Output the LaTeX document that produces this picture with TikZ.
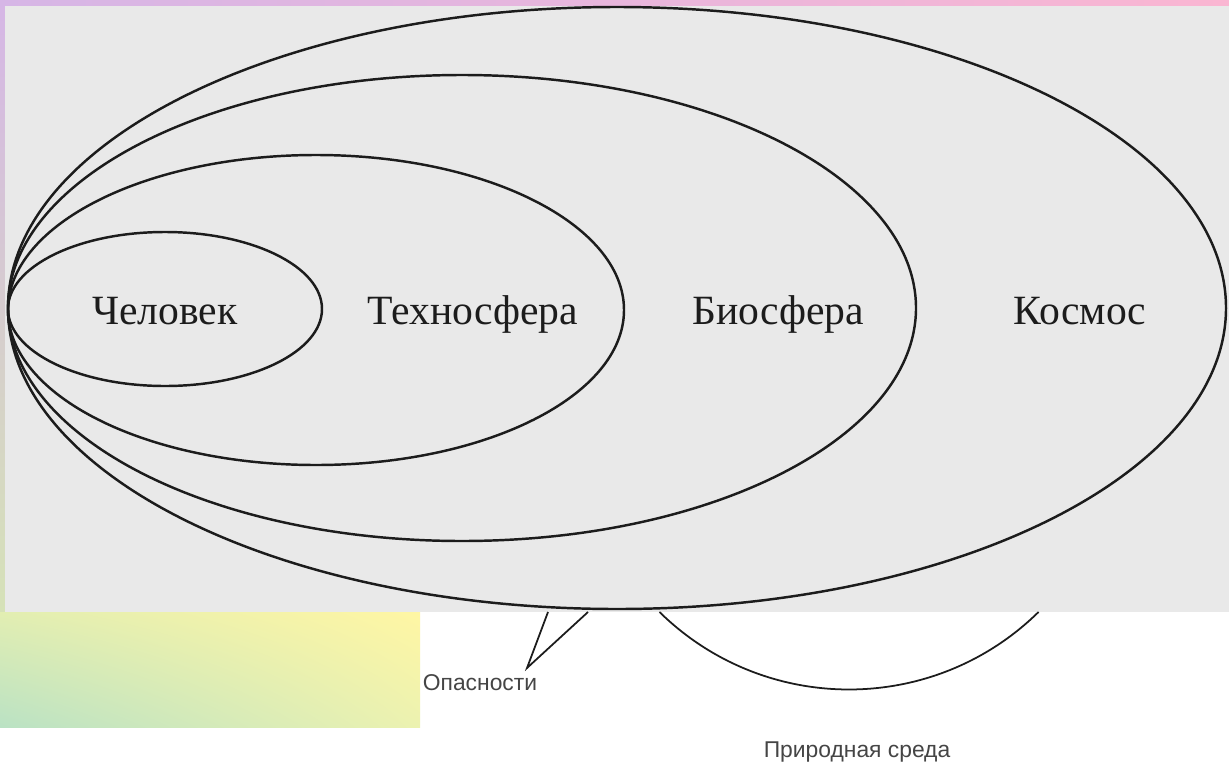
\documentclass[tikz,border=0pt]{standalone}
\usepackage{fontspec}
\usetikzlibrary{shadings}
\setmainfont{Liberation Serif}
\newfontfamily\labsans{Liberation Sans}
\definecolor{scan}{HTML}{E9E9E9}
\definecolor{ink}{HTML}{1C1C1C}
\definecolor{graytext}{HTML}{454545}
\definecolor{lav}{RGB}{214,182,230}
\definecolor{pinkish}{RGB}{250,182,210}
\definecolor{palegreen}{RGB}{214,226,184}
\definecolor{gul}{RGB}{226,238,178}
\definecolor{gur}{RGB}{255,246,164}
\definecolor{gll}{RGB}{186,226,196}
\definecolor{glr}{RGB}{236,242,176}
\begin{document}
\begin{tikzpicture}[x=0.02cm,y=-0.02cm,
  sphere/.style={draw=ink,line width=1.4pt},
  thin line/.style={draw=ink,line width=1pt},
  biglabel/.style={anchor=base,inner sep=0pt,text=ink,font=\fontsize{23.7}{28}\selectfont},
  smalllabel/.style={anchor=base,inner sep=0pt,text=graytext,font=\labsans\fontsize{13}{15}\selectfont}]
\useasboundingbox (0,0) rectangle (1229,764);
\fill[white] (0,0) rectangle (1229,764);
% decorative gradients
\shade[left color=lav,right color=pinkish] (0,0) rectangle (1229,6);
\shade[top color=lav,bottom color=palegreen] (0,0) rectangle (5,612);
\shade[upper left=gul,upper right=gur,lower left=gll,lower right=glr] (0,612) rectangle (420,727);
% scanned panel
\fill[scan] (5,6) rectangle (1229,612);
% nested spheres
\draw[sphere] (617,308) ellipse [x radius=609, y radius=301];
\draw[sphere] (462,308) ellipse [x radius=454, y radius=233];
\draw[sphere] (316,310) ellipse [x radius=308, y radius=155];
\draw[sphere] (165,309) ellipse [x radius=157, y radius=77];
% labels
\node[biglabel] (chel) at (165,324) {Человек};
\node[biglabel] (tech) at (473,324) {Техносфера};
\node[biglabel] (bio) at (778,324) {Биосфера};
\node[biglabel] (kosm) at (1080,324) {Космос};
% lower part
\coordinate (v1) at (548,612);
\coordinate (v2) at (588,612);
\coordinate (vt) at (527,668);
\draw[thin line,line join=miter] (v1) -- (vt) -- (v2);
\node[smalllabel] (opas) at (480,690) {Опасности};
\coordinate (pc) at (849,419);
\draw[thin line] (pc) ++(134.48:270.5) arc[start angle=134.48, end angle=45.52, radius=270.5];
\node[smalllabel] (prir) at (857,757) {Природная среда};
\end{tikzpicture}
\end{document}
